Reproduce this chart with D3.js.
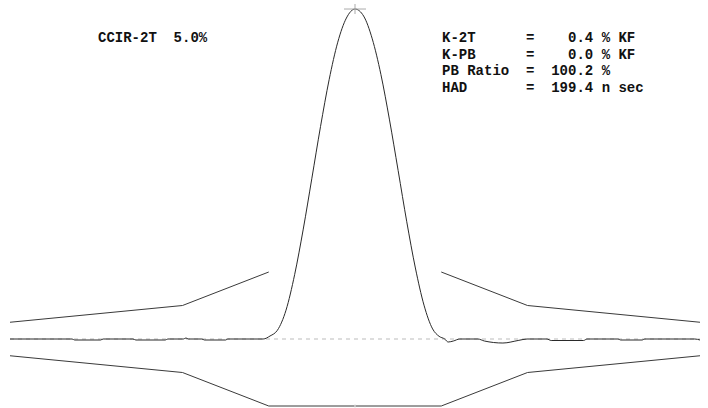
<!DOCTYPE html>
<html><head><meta charset="utf-8">
<script src="https://cdn.jsdelivr.net/npm/d3@7"></script>
<style>
html,body{margin:0;padding:0;background:#fff;}
text{font-family:"Liberation Mono","Courier New",monospace;font-weight:bold;white-space:pre;}
</style></head>
<body>
<svg id="chart" width="708" height="408"></svg>
<script>
// time in ns relative to pulse centre, amplitude in % of nominal
const traceTime = [-800,-656,-650,-590,-584,-515,-508,-440,-434,-398,-392,-386,-355,-349,-300,-295,-213,-197,-180,-160,-140,-120,-100,-80,-60,-40,-20,0,20,40,60,80,100,120,140,160,180,195,208,216,228,243,285,300,343,380,399,445,455,530,538,610,616,666,672,788,800];
const traceValue = [0,0,-0.3,-0.3,0,0,-0.3,-0.3,0,0,0.3,0,0,-0.3,-0.3,0,0,0.9,2.6,8.6,19.2,32.8,48.0,63.4,77.4,88.6,95.8,98.5,96.4,89.6,79.0,65.4,50.3,35.0,21.2,10.1,3.0,0.8,0,-0.9,-0.6,0,0,-0.6,-1.2,-0.4,0,0,-0.45,-0.45,0,0,-0.3,-0.3,0,0,-0.3];

// K-factor mask limits (%)
const maskTime = [-800,-400,-200,200,400,800];
const maskUpper = [5,10,20,20,10,5];
const maskLower = [-5,-10,-20,-20,-10,-5];

const titleLabel = "CCIR-2T  5.0%";
const resultLines = [
  "K-2T      =    0.4 % KF",
  "K-PB      =    0.0 % KF",
  "PB Ratio  =  100.2 %",
  "HAD       =  199.4 n sec"
];

const svg = d3.select("#chart");
const x = d3.scaleLinear().domain([-800, 800]).range([10, 700]);
const y = d3.scaleLinear().domain([0, 100]).range([339, 4]);

const line = d3.line().x(d => x(d[0])).y(d => y(d[1]));

// dashed baseline
svg.append("path")
  .attr("d", line([[maskTime[0],0],[maskTime[maskTime.length-1],0]]))
  .attr("fill","none").attr("stroke","#bbb").attr("stroke-width",1)
  .attr("stroke-dasharray","4,4");

// mask upper (left and right parts), lower (continuous)
const upL = maskTime.slice(0,3).map((t,i)=>[t,maskUpper[i]]);
const upR = maskTime.slice(3).map((t,i)=>[t,maskUpper[i+3]]);
const low = maskTime.map((t,i)=>[t,maskLower[i]]);
[upL, upR, low].forEach(seg => {
  svg.append("path").attr("d", line(seg))
    .attr("fill","none").attr("stroke","#3a3a3a").attr("stroke-width",1);
});
// centre mark on lower mask
svg.append("line")
  .attr("x1", x(0)).attr("x2", x(0))
  .attr("y1", y(-20)-2).attr("y2", y(-20)+2)
  .attr("stroke","#e6e6e6").attr("stroke-width",1);

// signal trace
const trace = traceTime.map((t,i)=>[t, traceValue[i]]);
svg.append("path")
  .attr("d", d3.line().x(d=>x(d[0])).y(d=>y(d[1])).curve(d3.curveMonotoneX)(trace))
  .attr("fill","none").attr("stroke","#2a2a2a").attr("stroke-width",1);

// peak cross
const pk = trace.reduce((a,b)=> b[1]>a[1]?b:a);
svg.append("line").attr("x1", x(pk[0])-11).attr("x2", x(pk[0])+11)
  .attr("y1", y(pk[1])).attr("y2", y(pk[1]))
  .attr("stroke","#aaa").attr("stroke-width",1);
svg.append("line").attr("x1", x(pk[0])).attr("x2", x(pk[0]))
  .attr("y1", y(pk[1])-5).attr("y2", y(pk[1])+5)
  .attr("stroke","#aaa").attr("stroke-width",1);

// text
svg.append("text").attr("x", 98).attr("y", 42)
  .attr("font-size", 14).attr("fill","#111").text(titleLabel);
svg.selectAll("text.res").data(resultLines).join("text")
  .attr("class","res")
  .attr("x", 442).attr("y", (d,i)=> 42 + i*16.7)
  .attr("font-size", 14).attr("fill","#111").text(d=>d);
</script>
</body></html>
